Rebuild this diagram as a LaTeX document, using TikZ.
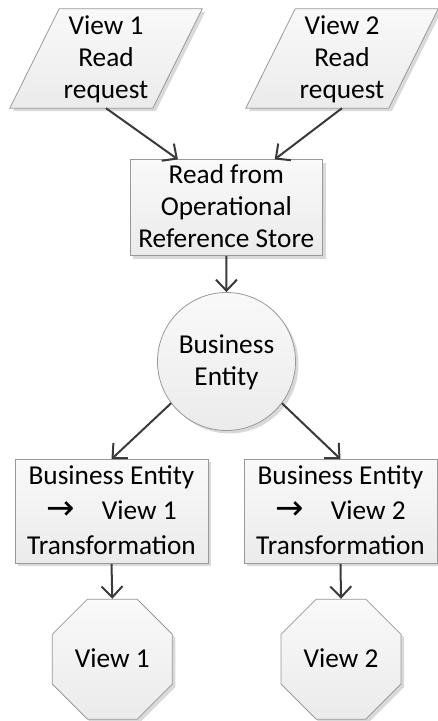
\documentclass[tikz,border=0pt]{standalone}
\usepackage{fontspec}
\setmainfont{Carlito}
\newfontfamily\arrowfont{DejaVu Sans}
\usetikzlibrary{shapes.geometric,arrows.meta,shadows,calc,backgrounds}
\definecolor{edgec}{HTML}{3A3A3A}
\definecolor{bordc}{HTML}{999999}
\definecolor{topc}{HTML}{F9F9F9}
\definecolor{botc}{HTML}{EBEBEB}
\definecolor{shadc}{HTML}{D9D9D9}
\newcommand\lsa{\rule[-8pt]{0pt}{32pt}}
\newcommand\lsb{\rule[-9pt]{0pt}{34pt}}
\newcommand\arr{{\arrowfont\fontsize{34}{34}\selectfont →}}
\begin{document}
\begin{tikzpicture}[x=1pt,y=1pt,
  shp/.style={draw=bordc, line width=0.8pt, top color=topc, bottom color=botc,
    drop shadow={shadow xshift=3pt,shadow yshift=-3pt,fill=shadc,opacity=1}},
  txt/.style={font=\fontsize{27.3}{32}\selectfont, align=center, inner sep=0pt, text=black},
  box/.style={shp, txt, rectangle},
  octo/.style={shp, txt, regular polygon, regular polygon sides=8, minimum size=129.9pt},
  conn/.style={draw=edgec, line width=2pt, -{Straight Barb[length=11pt,width=21pt]}},
]
\useasboundingbox (0,0) rectangle (438,721);

% read requests (parallelograms)
\node[txt, minimum width=192pt, minimum height=99pt] (p1) at (106,662.5)
  {\lsa View 1\\\lsa Read\\\lsa request};
\node[txt, minimum width=192pt, minimum height=99pt] (p2) at (342,662.5)
  {\lsa View 2\\\lsa Read\\\lsa request};
\begin{scope}[on background layer]
  \draw[shp] (p1.south west) -- ++(143,0) -- (p1.north east) -- ++(-143,0) -- cycle;
  \draw[shp] (p2.south west) -- ++(143,0) -- (p2.north east) -- ++(-143,0) -- cycle;
\end{scope}

% read from store
\node[box, minimum width=192.7pt, minimum height=91pt] (r) at (226.3,513.2)
  {\lsa Read from\\\lsa Operational\\\lsa Reference Store};

% business entity
\node[shp, txt, circle, minimum size=138pt] (c) at (226.5,359.5)
  {\lsa Business\\\lsa Entity};

% transformations
\node[box, minimum width=193pt, minimum height=101pt] (b1) at (111.5,209.5)
  {\lsb Business Entity\\\lsb\arr\hspace{27pt}View 1\\\lsb Transformation};
\node[box, minimum width=193pt, minimum height=101pt] (b2) at (340.5,209.5)
  {\lsb Business Entity\\\lsb\arr\hspace{27pt}View 2\\\lsb Transformation};

% views
\node[octo] (o1) at (112.3,61.8) {\lsa View 1};
\node[octo] (o2) at (341,61.8) {\lsa View 2};

% connectors
\draw[conn] (p1.south) -- ($(r.north west)!0.25!(r.north east)$);
\draw[conn] (p2.south) -- ($(r.north west)!0.75!(r.north east)$);
\draw[conn] (r.south) -- (c.north);
\draw[conn] (c.217) -- (b1.north);
\draw[conn] (c.323) -- (b2.north);
\draw[conn] (b1.south) -- (o1.north);
\draw[conn] (b2.south) -- (o2.north);
\end{tikzpicture}
\end{document}
